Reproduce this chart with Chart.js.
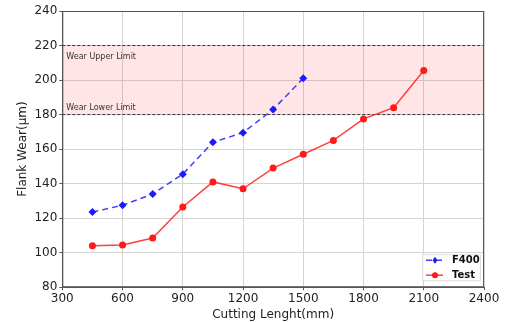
<!DOCTYPE html>
<html>
<head>
<meta charset="utf-8">
<script src="https://cdn.jsdelivr.net/npm/chart.js@4/dist/chart.umd.min.js"></script>
<style>
  html, body { margin: 0; padding: 0; background: #fff; }
  #wrap { width: 505px; height: 322px; }
</style>
</head>
<body>
<div id="wrap"><canvas id="myChart"></canvas></div>
<script>
// data
var f400Lengths = [450, 600, 750, 900, 1050, 1200, 1350, 1500];
var f400Wear = [123.5, 127.5, 134, 145.5, 164, 169.5, 183, 201];
var testLengths = [450, 600, 750, 900, 1050, 1200, 1350, 1500, 1650, 1800, 1950, 2100];
var testWear = [104, 104.5, 108.5, 126.5, 141, 137, 149, 157, 165, 177.5, 184, 205.5];
var wearLimits = [180, 220];
var limitLabels = ["Wear Lower Limit", "Wear Upper Limit"];

function toPoints(xs, ys) {
  return xs.map(function (x, i) { return { x: x, y: ys[i] }; });
}

var tickFont = { family: "DejaVu Sans", size: 12 };

// pink band between the wear limits, with dashed edges and labels
var limitBand = {
  id: "limitBand",
  beforeDatasetsDraw: function (chart) {
    var c = chart.ctx, a = chart.chartArea, y = chart.scales.y;
    var yLow = y.getPixelForValue(wearLimits[0]);
    var yHigh = y.getPixelForValue(wearLimits[1]);
    c.save();
    c.fillStyle = "rgba(255,0,0,0.1)";
    c.fillRect(a.left, yHigh, a.right - a.left, yLow - yHigh);
    c.strokeStyle = "#333";
    c.lineWidth = 1;
    c.setLineDash([3, 2]);
    [yLow, yHigh].forEach(function (p) {
      c.beginPath();
      c.moveTo(a.left, p);
      c.lineTo(a.right, p);
      c.stroke();
    });
    c.setLineDash([]);
    c.fillStyle = "#333";
    c.font = "8px 'DejaVu Sans'";
    c.textBaseline = "middle";
    c.fillText(limitLabels[0], a.left + 4, yLow - 7);
    c.fillText(limitLabels[1], a.left + 4, yHigh + 11);
    c.restore();
  },
  afterDraw: function (chart) {
    var c = chart.ctx, a = chart.chartArea;
    c.save();
    c.strokeStyle = "#555";
    c.lineWidth = 1;
    c.strokeRect(a.left + 0.5, a.top + 0.5, a.right - a.left - 1, a.bottom - a.top - 1);
    // legend box in lower right corner
    var w = 58, h = 26;
    var x0 = a.right - w - 4, y0 = a.bottom - h - 7;
    c.fillStyle = "rgba(255,255,255,0.9)";
    c.strokeStyle = "#ddd";
    c.fillRect(x0, y0, w, h);
    c.strokeRect(x0 + 0.5, y0 + 0.5, w, h);
    var items = chart.data.datasets;
    c.font = "bold 10px 'DejaVu Sans'";
    c.textBaseline = "middle";
    items.forEach(function (ds, i) {
      var ly = y0 + 6 + i * 15;
      c.strokeStyle = ds.borderColor;
      c.lineWidth = 1.5;
      c.setLineDash(ds.borderDash || []);
      c.beginPath();
      c.moveTo(x0 + 4, ly);
      c.lineTo(x0 + 21, ly);
      c.stroke();
      c.setLineDash([]);
      c.fillStyle = ds.backgroundColor;
      c.beginPath();
      if (ds.pointStyle === "rectRot") {
        c.moveTo(x0 + 13, ly - 3.5);
        c.lineTo(x0 + 15.5, ly);
        c.lineTo(x0 + 13, ly + 3.5);
        c.lineTo(x0 + 10.5, ly);
      } else {
        c.arc(x0 + 13, ly, 3, 0, Math.PI * 2);
      }
      c.fill();
      c.fillStyle = "#111";
      c.fillText(ds.label, x0 + 30, ly);
    });
    c.restore();
  }
};

var ctx = document.getElementById("myChart");
var chart = new Chart(ctx, {
  type: "line",
  data: {
    datasets: [
      {
        label: "F400",
        data: toPoints(f400Lengths, f400Wear),
        borderColor: "rgba(30,30,255,0.85)",
        backgroundColor: "#1a1aff",
        borderWidth: 1.5,
        borderDash: [6, 4],
        pointStyle: "rectRot",
        pointRadius: 4,
        pointBorderWidth: 0,
        tension: 0
      },
      {
        label: "Test",
        data: toPoints(testLengths, testWear),
        borderColor: "rgba(255,30,30,0.85)",
        backgroundColor: "#ff1a1a",
        borderWidth: 1.5,
        pointStyle: "circle",
        pointRadius: 3.5,
        pointBorderWidth: 0,
        tension: 0
      }
    ]
  },
  options: {
    responsive: true,
    maintainAspectRatio: false,
    animation: false,
    layout: { padding: { left: 12, right: 21, top: 11, bottom: 0 } },
    plugins: {
      legend: { display: false },
      tooltip: { enabled: false }
    },
    scales: {
      x: {
        type: "linear",
        min: 300,
        max: 2400,
        ticks: { stepSize: 300, font: tickFont, color: "#222", padding: 1, callback: function (v) { return String(v); } },
        grid: { color: "#d4d4d4", drawTicks: true, tickLength: 3, tickColor: "#555" },
        border: { color: "#555" },
        title: { display: true, text: "Cutting Lenght(mm)", font: tickFont, color: "#222", padding: { top: 1, bottom: 0 } }
      },
      y: {
        min: 80,
        max: 240,
        ticks: { stepSize: 20, font: tickFont, color: "#222", padding: 2, callback: function (v) { return String(v); } },
        grid: { color: "#d4d4d4", drawTicks: true, tickLength: 3, tickColor: "#555" },
        border: { color: "#555" },
        title: { display: true, text: "Flank Wear(μm)", font: tickFont, color: "#222", padding: { bottom: 2 } }
      }
    }
  },
  plugins: [limitBand]
});
</script>
</body>
</html>
